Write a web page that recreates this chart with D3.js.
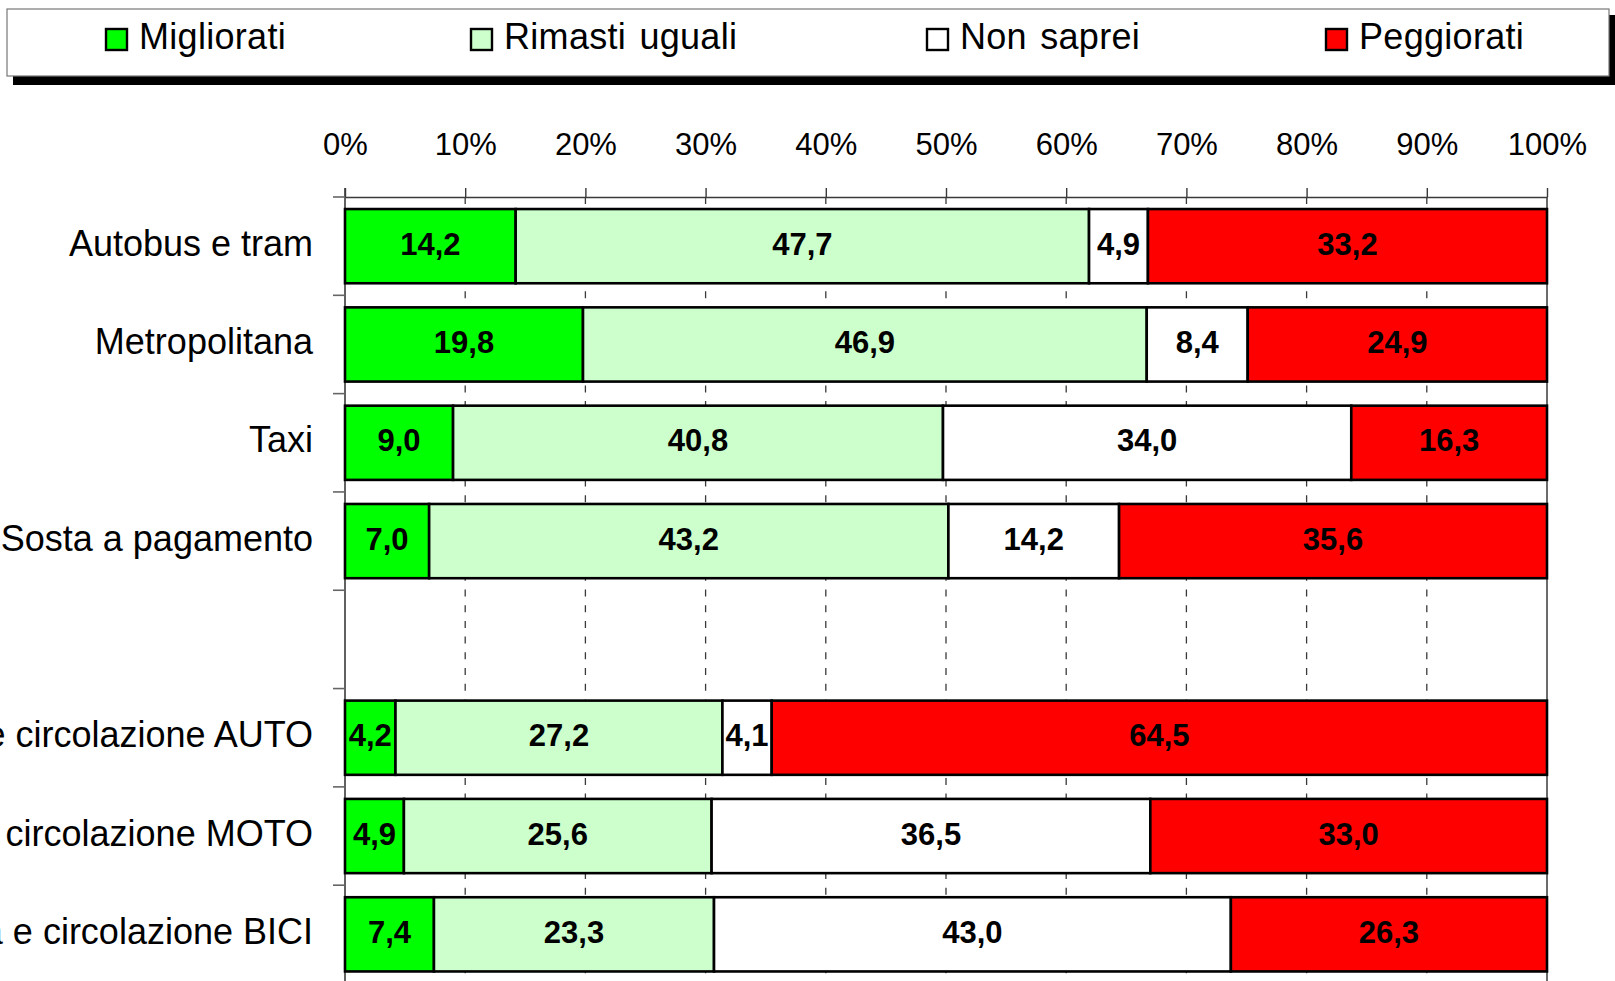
<!DOCTYPE html>
<html>
<head>
<meta charset="utf-8">
<script src="https://cdn.jsdelivr.net/npm/d3@7"></script>
<style>
  html, body { margin: 0; padding: 0; background: #fff; }
  svg { display: block; font-family: "Liberation Sans", Arial, sans-serif; }
</style>
</head>
<body>
<svg id="chart" width="1615" height="981"></svg>
<script>
// Survey rows (an empty row separates the two groups)
const categories = [
  "Autobus e tram",
  "Metropolitana",
  "Taxi",
  "Sosta a pagamento",
  "",
  "Viabilità e circolazione AUTO",
  "Viabilità e circolazione MOTO",
  "Viabilità e circolazione BICI"
];
const migliorati = [14.2, 19.8, 9.0, 7.0, null, 4.2, 4.9, 7.4];
const rimasti    = [47.7, 46.9, 40.8, 43.2, null, 27.2, 25.6, 23.3];
const nonSaprei  = [4.9, 8.4, 34.0, 14.2, null, 4.1, 36.5, 43.0];
const peggiorati = [33.2, 24.9, 16.3, 35.6, null, 64.5, 33.0, 26.3];

const seriesNames  = ["Migliorati", "Rimasti uguali", "Non saprei", "Peggiorati"];
const seriesColors = ["#00ff00", "#ccffcc", "#ffffff", "#ff0000"];
const tickValues   = [0, 0.1, 0.2, 0.3, 0.4, 0.5, 0.6, 0.7, 0.8, 0.9, 1];

const seriesValues = [migliorati, rimasti, nonSaprei, peggiorati];

const svg = d3.select("#chart");

// Plot area
const plotLeft = 345, plotRight = 1547, plotTop = 197, plotBottom = 983.5;

const x = d3.scaleLinear().domain([0, 1]).range([plotLeft, plotRight]);
const y = d3.scaleBand()
  .domain(d3.range(categories.length))
  .range([plotTop, plotBottom])
  .paddingInner(0.245)
  .paddingOuter(0.1225);

// Build 100% stacked rows
const rows = categories.map((name, i) => {
  const vals = seriesValues.map(s => s[i]);
  if (vals.some(v => v == null)) return null;
  const total = d3.sum(vals);
  let acc = 0;
  return vals.map((v, k) => {
    const seg = { row: i, series: k, value: v, x0: acc / total, x1: (acc + v) / total };
    acc += v;
    return seg;
  });
}).filter(r => r);

// Dashed vertical gridlines
svg.append("g")
  .selectAll("line")
  .data(tickValues.slice(1, -1))
  .join("line")
  .attr("x1", d => x(d)).attr("x2", d => x(d))
  .attr("y1", plotTop).attr("y2", plotBottom)
  .attr("stroke", "#3a3a3a")
  .attr("stroke-width", 1.3)
  .attr("stroke-dasharray", "7,8.7");

// Right border of the plot
svg.append("line")
  .attr("x1", x(1)).attr("x2", x(1))
  .attr("y1", plotTop).attr("y2", plotBottom)
  .attr("stroke", "#3a3a3a").attr("stroke-width", 1.5);

// Top value axis
const xAxis = d3.axisTop(x)
  .tickValues(tickValues)
  .tickFormat(d3.format(".0%"))
  .tickSize(9)
  .tickSizeOuter(0)
  .tickPadding(33);
const gx = svg.append("g").attr("transform", `translate(0,${plotTop})`).call(xAxis);
gx.select(".domain").attr("stroke", "#3a3a3a").attr("stroke-width", 1.6);
gx.selectAll(".tick line").attr("stroke", "#3a3a3a").attr("stroke-width", 1.4);
gx.selectAll(".tick text")
  .attr("font-size", 31)
  .attr("font-family", "Liberation Sans, Arial, sans-serif")
  .attr("fill", "#000");

// Left category axis: tick marks at band boundaries
const boundaries = d3.range(categories.length + 1).map(i => plotTop + i * y.step());
svg.append("line")
  .attr("x1", plotLeft).attr("x2", plotLeft)
  .attr("y1", plotTop - 9).attr("y2", plotBottom)
  .attr("stroke", "#3a3a3a").attr("stroke-width", 1.6);
svg.append("g")
  .selectAll("line")
  .data(boundaries)
  .join("line")
  .attr("x1", plotLeft - 12).attr("x2", plotLeft)
  .attr("y1", d => d).attr("y2", d => d)
  .attr("stroke", "#666").attr("stroke-width", 1.6);

// Category labels
svg.append("g")
  .selectAll("text")
  .data(categories)
  .join("text")
  .attr("x", 313)
  .attr("y", (d, i) => y(i) + y.bandwidth() / 2 - 3)
  .attr("text-anchor", "end")
  .attr("dominant-baseline", "central")
  .attr("font-size", 36)
  .attr("fill", "#000")
  .text(d => d);

// Stacked bars
const segs = rows.flat();
svg.append("g")
  .selectAll("rect")
  .data(segs)
  .join("rect")
  .attr("x", d => x(d.x0))
  .attr("y", d => y(d.row))
  .attr("width", d => x(d.x1) - x(d.x0))
  .attr("height", y.bandwidth())
  .attr("fill", d => seriesColors[d.series])
  .attr("stroke", "#000")
  .attr("stroke-width", 2.6);

// Value labels
const fmt = v => d3.format(".1f")(v).replace(".", ",");
svg.append("g")
  .selectAll("text")
  .data(segs)
  .join("text")
  .attr("x", d => (x(d.x0) + x(d.x1)) / 2)
  .attr("y", d => y(d.row) + y.bandwidth() / 2 - 2)
  .attr("text-anchor", "middle")
  .attr("dominant-baseline", "central")
  .attr("font-size", 31)
  .attr("font-weight", "bold")
  .attr("fill", "#000")
  .text(d => fmt(d.value));

// Legend box with drop shadow
const lg = svg.append("g");
lg.append("rect")
  .attr("x", 13).attr("y", 15).attr("width", 1602).attr("height", 70)
  .attr("fill", "#000");
lg.append("rect")
  .attr("x", 7).attr("y", 9).attr("width", 1602).attr("height", 67)
  .attr("fill", "#fff").attr("stroke", "#777").attr("stroke-width", 1.2);

const legendX = [106, 471, 927, 1326];
const items = lg.selectAll("g.item")
  .data(seriesNames)
  .join("g")
  .attr("class", "item")
  .attr("transform", (d, i) => `translate(${legendX[i]},0)`);
items.append("rect")
  .attr("x", 0).attr("y", 29).attr("width", 21).attr("height", 21)
  .attr("fill", (d, i) => seriesColors[i])
  .attr("stroke", "#000").attr("stroke-width", 2.4);
items.append("text")
  .attr("x", 33).attr("y", 36)
  .attr("dominant-baseline", "central")
  .attr("font-size", 36)
  .attr("word-spacing", 3)
  .attr("letter-spacing", 0.3)
  .attr("fill", "#000")
  .text(d => d);
</script>
</body>
</html>
